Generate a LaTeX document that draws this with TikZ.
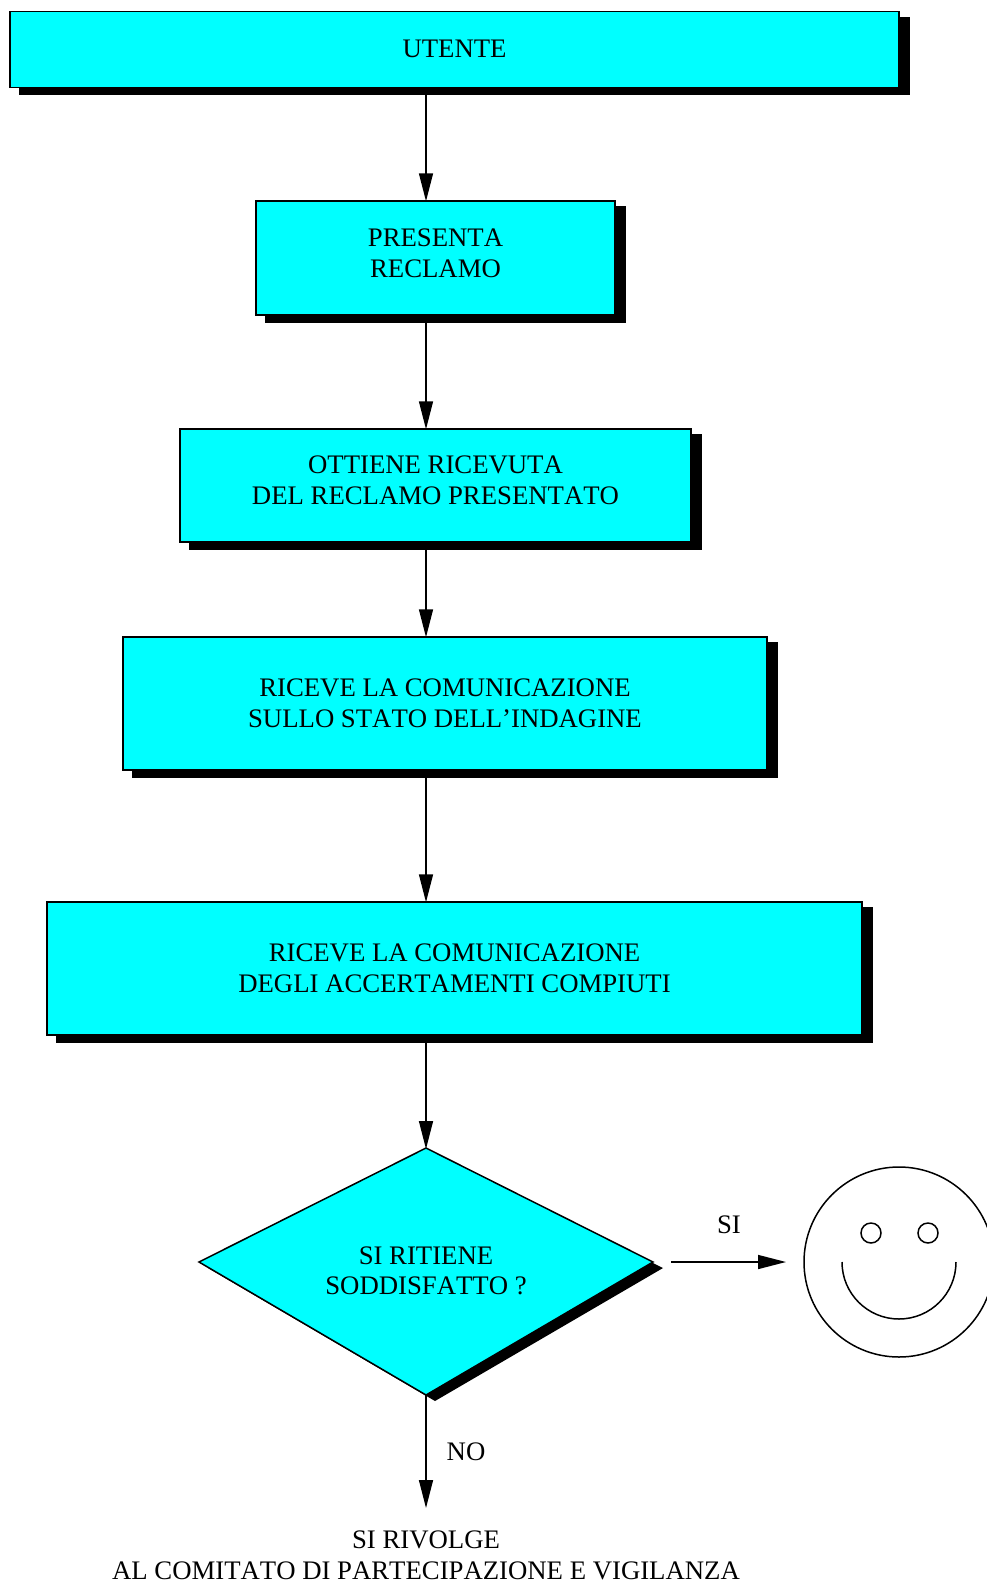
\documentclass[tikz,border=0pt]{standalone}
\usepackage{fontspec}
\setmainfont[Kerning=Off]{Liberation Serif}
\usetikzlibrary{arrows.meta,shadows}
\definecolor{mycyan}{rgb}{0,1,1}
\tikzset{box/.style={draw, line width=1.5pt, fill=mycyan, align=center, font=\fontsize{26.75}{30.5}\selectfont, inner sep=0pt, drop shadow={shadow xshift=10pt, shadow yshift=-6.25pt, draw=black, line width=2.5pt, fill=black, opacity=1}}}
\tikzset{label/.style={font=\fontsize{26.75}{30.5}\selectfont, align=center, inner sep=0pt}}
\tikzset{flow/.style={line width=1.5pt, -{Triangle[length=28pt, width=14pt]}, shorten >=-1pt}}

\begin{document}
\begin{tikzpicture}[x=1pt, y=-1pt]
\path [use as bounding box] (0,0) rectangle (987,1585);
\node [box, minimum width=889pt, minimum height=76pt, text depth=2pt] (utente) at (454.5,49.5) {UTENTE};
\node [box, minimum width=359pt, minimum height=114pt, text depth=10pt] (presenta) at (435.5,258) {PRESENTA\\RECLAMO};
\node [box, minimum width=511pt, minimum height=113pt, text depth=11pt] (ottiene) at (435.5,485.5) {OTTIENE RICEVUTA\\DEL RECLAMO PRESENTATO};
\node [box, minimum width=644pt, minimum height=133pt] (stato) at (445,703.5) {RICEVE LA COMUNICAZIONE\\SULLO STATO DELL'INDAGINE};
\node [box, minimum width=815pt, minimum height=133pt] (esito) at (454.5,968.5) {RICEVE LA COMUNICAZIONE\\DEGLI ACCERTAMENTI COMPIUTI};
% rombo
\coordinate (top) at (426,1148);
\coordinate (left) at (199,1262);
\coordinate (bottom) at (426,1395);
\coordinate (right) at (653,1262);
\fill [black] (426+9,1148+6) -- (653+10,1262+6) -- (426+9,1395+6) -- (199+9,1262+6) -- cycle;
\draw [line width=1.5pt, fill=mycyan] (top) -- (right) -- (bottom) -- (left) -- cycle;
\node [label] (ritiene) at (426,1271) {SI RITIENE\\SODDISFATTO ?};
\foreach \a/\b in {utente/presenta,presenta/ottiene,ottiene/stato,stato/esito} {
  \draw [flow] (top |- \a.south) -- (top |- \b.north);
}
\draw [flow] (top |- esito.south) -- (top);
% uscite
\coordinate (sistart) at (671,1262);
\coordinate (siend) at (785,1262);
\draw [flow] (sistart) -- (siend);
\node [label] (si) at (729,1225) {SI};
\node [label] (comitato) at (426,1555.5) {SI RIVOLGE\\AL COMITATO DI PARTECIPAZIONE E VIGILANZA};
\coordinate (noend) at (426,1507);
\draw [flow] (bottom) -- (noend);
\node [label] (no) at (466,1452) {NO};
% faccina
\draw [line width=1.5pt] (899,1262) circle [radius=95];
\draw [line width=1.5pt] (871,1233) circle [radius=10];
\draw [line width=1.5pt] (928,1233) circle [radius=10];
\draw [line width=1.5pt] (842,1262) arc [start angle=180, end angle=360, x radius=57, y radius=-57];
\end{tikzpicture}
\end{document}
